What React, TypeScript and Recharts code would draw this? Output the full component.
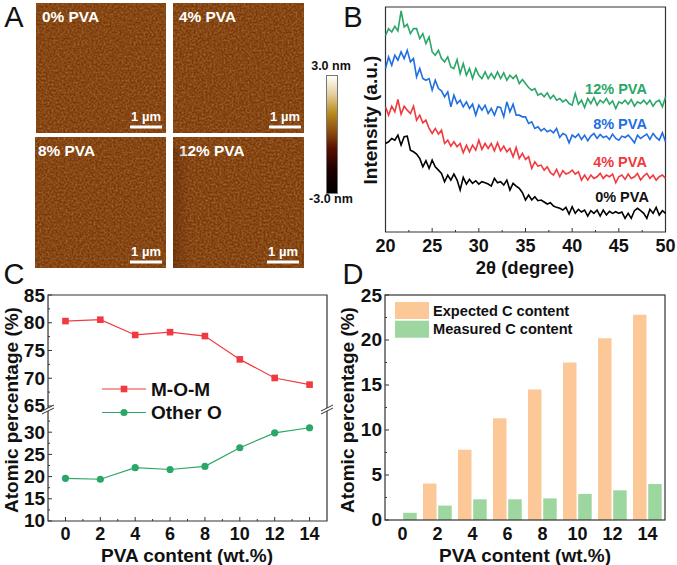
import { Bar, BarChart, Legend, Line, LineChart, ReferenceArea, XAxis, YAxis } from "recharts";

// Panel B: XRD traces (a.u., measured up from the bottom axis)
const twoTheta = [
  20, 20.33, 20.67, 21, 21.33, 21.67, 22, 22.33, 22.67, 23, 23.33, 23.67, 24, 24.33, 24.67,
  25, 25.33, 25.67, 26, 26.33, 26.67, 27, 27.33, 27.67, 28, 28.33, 28.67, 29, 29.33, 29.67,
  30, 30.33, 30.67, 31, 31.33, 31.67, 32, 32.33, 32.67, 33, 33.33, 33.67, 34, 34.33, 34.67,
  35, 35.33, 35.67, 36, 36.33, 36.67, 37, 37.33, 37.67, 38, 38.33, 38.67, 39, 39.33, 39.67,
  40, 40.33, 40.67, 41, 41.33, 41.67, 42, 42.33, 42.67, 43, 43.33, 43.67, 44, 44.33, 44.67,
  45, 45.33, 45.67, 46, 46.33, 46.67, 47, 47.33, 47.67, 48, 48.33, 48.67, 49, 49.33, 49.67, 50,
];
const pva0 = [
  266, 271, 281, 276, 291, 261, 286, 288, 246, 241, 234, 221, 196, 214, 191, 216, 196, 186, 176, 151,
  171, 156, 174, 156, 126, 164, 144, 158, 146, 154, 144, 151, 148, 144, 138, 161, 148, 151, 141, 156,
  126, 146, 138, 131, 118, 96, 111, 96, 106, 94, 96, 90, 84, 88, 78, 74, 71, 66, 74, 54,
  76, 56, 68, 60, 66, 48, 64, 56, 66, 48, 66, 51, 62, 56, 61, 56, 60, 41, 56, 41,
  64, 71, 64, 56, 41, 68, 56, 74, 51, 64, 56,
];
const pva4 = [
  376, 351, 378, 361, 398, 354, 378, 366, 356, 378, 336, 351, 328, 336, 311, 296, 311, 294, 306, 266,
  276, 258, 271, 256, 266, 238, 261, 241, 261, 246, 276, 248, 266, 251, 266, 244, 268, 244, 258, 241,
  251, 226, 254, 221, 236, 218, 226, 191, 211, 198, 201, 186, 196, 178, 171, 188, 166, 184, 174, 178,
  186, 174, 181, 156, 171, 156, 171, 161, 166, 176, 161, 171, 166, 174, 148, 166, 171, 158, 174, 161,
  166, 176, 156, 168, 176, 161, 171, 156, 166, 171, 161,
];
const pva8 = [
  491, 526, 501, 531, 516, 541, 521, 546, 511, 521, 466, 491, 461, 456, 461, 426, 456, 431, 424, 406,
  421, 376, 411, 386, 396, 376, 391, 371, 384, 351, 381, 366, 381, 356, 371, 351, 376, 374, 346, 391,
  361, 384, 351, 351, 346, 346, 326, 331, 311, 316, 304, 311, 301, 306, 298, 311, 284, 296, 291, 268,
  291, 284, 294, 278, 291, 274, 288, 296, 281, 293, 284, 288, 278, 294, 281, 276, 288, 284, 291, 281,
  268, 291, 281, 288, 294, 278, 296, 284, 276, 298, 271,
];
const pva12 = [
  591, 611, 601, 618, 604, 664, 616, 624, 596, 611, 611, 581, 596, 566, 586, 541, 531, 546, 521, 511,
  526, 496, 491, 518, 476, 506, 471, 491, 461, 491, 471, 461, 481, 461, 476, 461, 481, 461, 478, 456,
  471, 461, 471, 446, 458, 446, 434, 426, 431, 411, 416, 406, 418, 401, 411, 396, 401, 391, 398, 386,
  381, 416, 384, 396, 374, 401, 386, 404, 381, 396, 388, 401, 384, 394, 371, 391, 386, 396, 384, 398,
  378, 391, 386, 396, 384, 396, 378, 391, 396, 376, 406,
];
const thetaTicks = [20, 22.5, 25, 27.5, 30, 32.5, 35, 37.5, 40, 42.5, 45, 47.5, 50];
const thetaMajor = [20, 25, 30, 35, 40, 45, 50];

// Panel C
const pvaContent = [0, 2, 4, 6, 8, 10, 12, 14];
const momValues = [80.3, 80.55, 77.8, 78.3, 77.6, 73.4, 70.05, 68.85];
const otherOValues = [19.6, 19.4, 22.0, 21.6, 22.3, 26.5, 29.85, 31.0];
const contentTicks = [0, 1, 2, 3, 4, 5, 6, 7, 8, 9, 10, 11, 12, 13, 14];
const upperTicks = [65, 67.5, 70, 72.5, 75, 77.5, 80, 82.5, 85];
const upperMajor = [65, 70, 75, 80, 85];
const lowerTicks = [10, 12.5, 15, 17.5, 20, 22.5, 25, 27.5, 30, 32.5];
const lowerMajor = [10, 15, 20, 25, 30];

// Panel D
const expectedC = [0, 4.05, 7.8, 11.3, 14.5, 17.5, 20.2, 22.8];
const measuredC = [0.8, 1.6, 2.3, 2.3, 2.4, 2.9, 3.3, 4.0];
const carbonTicks = [0, 2.5, 5, 7.5, 10, 12.5, 15, 17.5, 20, 22.5, 25];
const carbonMajor = [0, 5, 10, 15, 20, 25];

const xrdData = twoTheta.map((t, i) => ({ t, pva0: pva0[i], pva4: pva4[i], pva8: pva8[i], pva12: pva12[i] }));
const oxygenData = pvaContent.map((c, i) => ({ c, mom: momValues[i], other: otherOValues[i] }));
const carbonData = pvaContent.map((c, i) => ({ c: String(c), expected: expectedC[i], measured: measuredC[i] }));

const FONT = '"Liberation Sans", Arial, sans-serif';
const RED = "#f03a40";
const GREEN = "#2aa768";
const BLUE = "#1f6fe0";
const AXIS = "#333333";
const THIN = 0.01; // axes draw nothing at size 0, and the ticks are placed by hand

function bottomTick(majors: any[], size = 18, len = 4, gap = 15) {
  return (p: any) => {
    const major = majors.includes(p.payload.value);
    return (
      <g key={p.index}>
        {len > 0 && <line x1={p.x} x2={p.x} y1={p.y} y2={p.y - (major ? len : 2)} stroke={AXIS} strokeWidth={1} />}
        {major && (
          <text x={p.x} y={p.y + gap} dominantBaseline="central" textAnchor="middle" fontFamily={FONT} fontWeight="bold" fontSize={size} fill="#111">
            {p.payload.value}
          </text>
        )}
      </g>
    );
  };
}

function leftTick(majors: number[]) {
  return (p: any) => {
    const major = majors.includes(p.payload.value);
    return (
      <g key={p.index}>
        <line x1={p.x} x2={p.x + (major ? 4 : 2)} y1={p.y} y2={p.y} stroke={AXIS} strokeWidth={1} />
        {major && (
          <text x={p.x - 3} y={p.y} dominantBaseline="central" textAnchor="end" fontFamily={FONT} fontWeight="bold" fontSize={19} fill="#111">
            {p.payload.value}
          </text>
        )}
      </g>
    );
  };
}

function squareDot(p: any) {
  return <rect key={p.index} x={p.cx - 3.3} y={p.cy - 3.3} width={6.6} height={6.6} fill={RED} />;
}

function OxygenLegend({ payload }: any) {
  return (
    <svg width={150} height={50} style={{ display: "block" }}>
      {(payload || []).map((item: any, i: number) => {
        const y = 11 + i * 23.5;
        return (
          <g key={item.value}>
            <line x1={0} x2={44} y1={y} y2={y} stroke={item.color} strokeWidth={1.2} />
            {i === 0 ? (
              <rect x={18.7} y={y - 3.3} width={6.6} height={6.6} fill={item.color} />
            ) : (
              <circle cx={22} cy={y} r={3.6} fill={item.color} />
            )}
            <text x={49} y={y} dominantBaseline="central" fontFamily={FONT} fontWeight="bold" fontSize={19} fill="#111">
              {item.value}
            </text>
          </g>
        );
      })}
    </svg>
  );
}

function CarbonLegend({ payload }: any) {
  return (
    <svg width={200} height={40} style={{ display: "block" }}>
      {(payload || []).map((item: any, i: number) => {
        const y = i * 18.7;
        return (
          <g key={item.value}>
            <rect x={0} y={y} width={34} height={17} fill={item.color} />
            <text x={38} y={y + 8.5} dominantBaseline="central" fontFamily={FONT} fontWeight="bold" fontSize={14.6} fill="#111">
              {item.value}
            </text>
          </g>
        );
      })}
    </svg>
  );
}

function Caption({ x, y, size = 19, color = "#111", weight = "bold", anchor = "middle", rotate, children }: any) {
  return (
    <text
      x={x}
      y={y}
      fontFamily={FONT}
      fontWeight={weight}
      fontSize={size}
      fill={color}
      textAnchor={anchor}
      dominantBaseline="central"
      transform={rotate ? `rotate(${rotate} ${x} ${y})` : undefined}
    >
      {children}
    </text>
  );
}

function AfmImage({ x, y, w, h, seed, label, labelX, barX, barY }: any) {
  return (
    <g>
      <rect x={x} y={y} width={w} height={h} fill="#7a380b" />
      <rect x={x} y={y} width={w} height={h} filter={`url(#grain${seed})`} />
      <Caption x={labelX} y={y + 13.5} size={15.4} color="#fff" anchor="start">{label}</Caption>
      <Caption x={barX + 16} y={barY - 11} size={13} color="#fff">1 µm</Caption>
      <rect x={barX} y={barY - 1.5} width={32} height={3} fill="#fff" />
    </g>
  );
}

function BreakMark({ x, y }: { x: number; y: number }) {
  return (
    <g>
      <polygon points={`${x - 6},${y + 3} ${x + 6},${y - 3} ${x + 6},${y} ${x - 6},${y + 6}`} fill="#fff" />
      <line x1={x - 6} y1={y + 3} x2={x + 6} y2={y - 3} stroke={AXIS} strokeWidth={1} />
      <line x1={x - 6} y1={y + 6} x2={x + 6} y2={y} stroke={AXIS} strokeWidth={1} />
    </g>
  );
}

const box = (left: number, top: number): any => ({ position: "absolute", left, top });

export default function App() {
  return (
    <div style={{ position: "absolute", left: 0, top: 0, width: 677, height: 565, background: "#fff", overflow: "hidden" }}>
      <div style={box(340, 0)}>
        <LineChart width={337} height={280} data={xrdData} margin={{ left: 45.5, right: 11.5, top: 7, bottom: 48 }}>
          <XAxis
            dataKey="t"
            type="number"
            domain={[20, 50]}
            ticks={thetaTicks}
            interval={0}
            height={THIN}
            tickSize={0}
            tickMargin={0}
            axisLine={false}
            tickLine={false}
            tick={bottomTick(thetaMajor, 18, 4, 14)}
          />
          <YAxis hide domain={[0, 676]} />
          <ReferenceArea x1={20} x2={50} y1={0} y2={676} fill="none" stroke={AXIS} strokeWidth={1.2} />
          <Line dataKey="pva0" stroke="#000" strokeWidth={1.6} dot={false} isAnimationActive={false} />
          <Line dataKey="pva4" stroke={RED} strokeWidth={1.6} dot={false} isAnimationActive={false} />
          <Line dataKey="pva8" stroke={BLUE} strokeWidth={1.6} dot={false} isAnimationActive={false} />
          <Line dataKey="pva12" stroke={GREEN} strokeWidth={1.6} dot={false} isAnimationActive={false} />
        </LineChart>
      </div>

      <div style={box(0, 270)}>
        <LineChart width={345} height={295} data={oxygenData} margin={{ left: 48, right: 18, top: 25, bottom: 44 }}>
          <XAxis
            dataKey="c"
            type="number"
            domain={[-1, 15]}
            ticks={contentTicks}
            interval={0}
            height={THIN}
            tickSize={0}
            tickMargin={0}
            axisLine={false}
            tickLine={false}
            tick={bottomTick(pvaContent, 18, 4, 13)}
          />
          <YAxis yAxisId="upper" domain={[44.28, 85]} ticks={upperTicks} interval={0} width={THIN} tickSize={0} tickMargin={0} axisLine={false} tickLine={false} tick={leftTick(upperMajor)} />
          <YAxis yAxisId="lower" domain={[10, 60.9]} ticks={lowerTicks} interval={0} width={THIN} tickSize={0} tickMargin={0} axisLine={false} tickLine={false} tick={leftTick(lowerMajor)} />
          <ReferenceArea yAxisId="upper" x1={-1} x2={15} y1={44.28} y2={85} fill="none" stroke={AXIS} strokeWidth={1.2} />
          <Legend layout="vertical" align="center" verticalAlign="middle" content={<OxygenLegend />} wrapperStyle={{ left: 102, top: 108, width: 150 }} />
          <Line yAxisId="upper" name="M-O-M" dataKey="mom" stroke={RED} strokeWidth={1.2} dot={squareDot} isAnimationActive={false} />
          <Line yAxisId="lower" name="Other O" dataKey="other" stroke={GREEN} strokeWidth={1.2} dot={{ r: 3.6, fill: GREEN, stroke: GREEN, strokeWidth: 0 }} isAnimationActive={false} />
        </LineChart>
      </div>

      <div style={box(340, 270)}>
        <BarChart width={337} height={295} data={carbonData} barSize={13.5} barGap={1.7} margin={{ left: 45, right: 12, top: 25, bottom: 45 }}>
          <XAxis dataKey="c" height={THIN} interval={0} tickSize={0} tickMargin={0} axisLine={false} tickLine={false} tick={bottomTick(carbonData.map((d) => d.c), 18, 0, 14)} />
          <YAxis domain={[0, 25]} ticks={carbonTicks} interval={0} width={THIN} tickSize={0} tickMargin={0} axisLine={false} tickLine={false} tick={leftTick(carbonMajor)} />
          <Legend layout="vertical" align="center" verticalAlign="middle" content={<CarbonLegend />} wrapperStyle={{ left: 55, top: 32, width: 200 }} />
          <Bar name="Expected C content" dataKey="expected" fill="#fdc898" isAnimationActive={false} />
          <Bar name="Measured C content" dataKey="measured" fill="#9dd69f" isAnimationActive={false} />
        </BarChart>
      </div>

      <svg width={677} height={565} style={{ position: "absolute", left: 0, top: 0, pointerEvents: "none" }}>
        <defs>
          {[1, 2, 3, 4].map((seed) => (
            <filter key={seed} id={`grain${seed}`} x="0" y="0" width="100%" height="100%">
              <feTurbulence type="fractalNoise" baseFrequency="0.5" numOctaves={3} seed={seed * 7} />
              <feColorMatrix values="0 0 0 0 0.7  0 0 0 0 0.42  0 0 0 0 0.1  0.8 0 0 0 -0.27" />
            </filter>
          ))}
          <linearGradient id="heightScale" x1="0" y1="1" x2="0" y2="0">
            <stop offset="0" stopColor="#000000" />
            <stop offset="0.2" stopColor="#1c0000" />
            <stop offset="0.38" stopColor="#5a0e00" />
            <stop offset="0.52" stopColor="#8a4a10" />
            <stop offset="0.68" stopColor="#b98a1e" />
            <stop offset="0.84" stopColor="#e2cf9c" />
            <stop offset="1" stopColor="#ffffff" />
          </linearGradient>
          <linearGradient id="stripe" x1="0" y1="0" x2="1" y2="0">
            <stop offset="0" stopColor="#5a2806" stopOpacity="0.45" />
            <stop offset="1" stopColor="#5a2806" stopOpacity="0" />
          </linearGradient>
        </defs>

        <AfmImage x={36} y={3} w={130} h={130} seed={1} label="0% PVA" labelX={42} barX={130} barY={127} />
        <AfmImage x={173} y={3} w={131} h={130} seed={2} label="4% PVA" labelX={179} barX={269} barY={127} />
        <AfmImage x={35} y={137} w={131} h={131} seed={3} label="8% PVA" labelX={38} barX={130} barY={262} />
        <AfmImage x={173} y={137} w={131} h={131} seed={4} label="12% PVA" labelX={179} barX={267} barY={262} />
        <rect x={173} y={148} width={17} height={120} fill="url(#stripe)" />

        <rect x={326.5} y={75.5} width={11} height={118} fill="url(#heightScale)" stroke="#777" strokeWidth={1} />
        <Caption x={331} y={66} size={12.5}>3.0 nm</Caption>
        <Caption x={331} y={199} size={12.5}>-3.0 nm</Caption>

        <Caption x={14} y={17} size={29} weight="normal">A</Caption>
        <Caption x={353} y={17} size={29} weight="normal">B</Caption>
        <Caption x={14} y={274} size={29} weight="normal">C</Caption>
        <Caption x={353} y={274} size={29} weight="normal">D</Caption>

        <Caption x={370} y={120} rotate={-90}>Intensity (a.u.)</Caption>
        <Caption x={525} y={267} size={18.5}>2θ (degree)</Caption>
        <Caption x={616} y={89} size={14.5} color={GREEN}>12% PVA</Caption>
        <Caption x={620} y={124} size={14.5} color={BLUE}>8% PVA</Caption>
        <Caption x={620} y={162} size={14.5} color={RED}>4% PVA</Caption>
        <Caption x={622} y={197} size={14.5}>0% PVA</Caption>

        <Caption x={11} y={410} rotate={-90}>Atomic percentage (%)</Caption>
        <Caption x={187} y={555}>PVA content (wt.%)</Caption>
        <BreakMark x={48} y={408} />
        <BreakMark x={327} y={408} />

        <Caption x={347} y={410} rotate={-90}>Atomic percentage (%)</Caption>
        <Caption x={525} y={555}>PVA content (wt.%)</Caption>
        <rect x={385} y={295} width={280} height={225} fill="none" stroke={AXIS} strokeWidth={1.2} />
      </svg>
    </div>
  );
}
